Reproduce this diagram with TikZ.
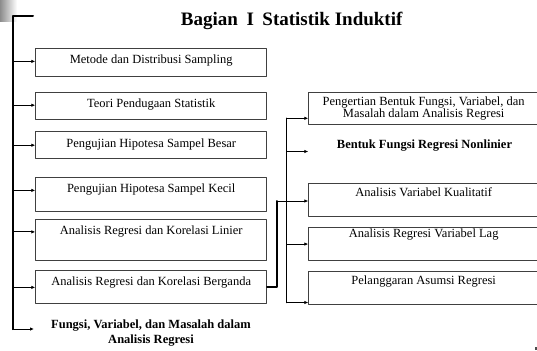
\documentclass[tikz,border=0pt]{standalone}
\usepackage{fontspec}
\setmainfont{Liberation Serif}
\usetikzlibrary{arrows.meta}
\tikzset{>={Latex[length=4pt,width=3.5pt]}}

\begin{document}
\begin{tikzpicture}[line cap=round,line join=round,x=1pt,y=-1pt,
  box/.style={draw=black!75,line width=0.8pt,inner xsep=0pt,inner ysep=0pt,font=\fontsize{12.5}{15}\selectfont},
  lbox/.style={box,anchor=north,minimum width=231pt},
  rbox/.style={box,anchor=north west,minimum width=230pt},
  bold/.style={font=\bfseries\fontsize{12.5}{15}\selectfont,align=center},
  arr/.style={->,line width=1pt},
  trunk/.style={line width=2pt}]
\useasboundingbox (0,0) rectangle (537,350);
\clip (0,0) rectangle (537,350);
\shade[left color=black!45,right color=white] (0,0) rectangle (17,22);
% title
\node[font=\bfseries\fontsize{19}{22}\selectfont] (t) at (291.7,21) {Bagian\hspace{0.45em}I\hspace{0.45em}Statistik Induktif};
% left column
\node[lbox,text height=15pt,text depth=12.7pt] (b1) at (151.2,48.3) {Metode dan Distribusi Sampling};
\node[lbox,text height=14.8pt,text depth=12.2pt] (b2) at (151.2,92.3) {Teori Pendugaan Statistik};
\node[lbox,text height=16.1pt,text depth=11.2pt] (b3) at (151.2,131) {Pengujian Hipotesa Sampel Besar};
\node[lbox,text height=15.6pt,text depth=18.7pt] (b4) at (151.2,176.7) {Pengujian Hipotesa Sampel Kecil};
\node[lbox,text height=14.5pt,text depth=26.2pt] (b5) at (151.2,219.3) {Analisis Regresi dan Korelasi Linier};
\node[lbox,text height=14.8pt,text depth=18.5pt] (b6) at (151.2,270) {Analisis Regresi dan Korelasi Berganda};
\node[bold] (f) at (151,333.5) {Fungsi, Variabel, dan Masalah dalam\\Analisis Regresi};
\coordinate (lt) at (33,15.7);
\coordinate (lb) at (12.7,329);
\coordinate (fa) at (34,329);
\draw[trunk] (lt) -| (lb);
\draw[arr] (lb |- b1.mid west) -- (b1.mid west);
\draw[arr] (lb |- b2.mid west) -- (b2.mid west);
\draw[arr] (lb |- b3.mid west) -- (b3.mid west);
\draw[arr] (lb |- b4.mid west) -- (b4.mid west);
\draw[arr] (lb |- b5.mid west) -- (b5.mid west);
\draw[arr] ([yshift=-4.5pt]b6.mid west -| lb) -- ([yshift=-4.5pt]b6.mid west);
\draw[arr] (lb) -- (fa);
% right column
\node[rbox,align=center,font=\fontsize{12.5}{12.7}\selectfont,minimum height=32.6pt] (p1) at (308.3,91.7) {Pengertian Bentuk Fungsi, Variabel, dan\\Masalah dalam Analisis Regresi};
\node[bold] (n2) at (424.5,145.7) {Bentuk Fungsi Regresi Nonlinier};
\node[rbox,text height=12.8pt,text depth=19.9pt] (k) at (308.3,183.3) {Analisis Variabel Kualitatif};
\node[rbox,text height=9.8pt,text depth=22.9pt] (g) at (308.3,227.3) {Analisis Regresi Variabel Lag};
\node[rbox,text height=13.8pt,text depth=19pt] (a) at (308.3,270.7) {Pelanggaran Asumsi Regresi};
\coordinate (rt) at (286.7,118.3);
\coordinate (rb) at (286.7,302.5);
\coordinate (nb) at (286.7,151.5);
\coordinate (ck) at (276.7,201);
\draw[trunk,line width=1.5pt] (rt) -- (rb);
\draw[arr] (rt) -- (rt -| p1.west);
\draw[arr] (nb) -- (nb -| p1.west);
\draw[arr] (rt |- g.west) -- (g.west);
\draw[arr] (rb) -- (rb -| a.west);
\draw[trunk] ([yshift=-4.5pt]b6.mid east) -| (ck);
\draw[arr] (ck) -- (ck -| k.west);
\fill[black!70] (535,347) rectangle (537,349.5);
\end{tikzpicture}
\end{document}
